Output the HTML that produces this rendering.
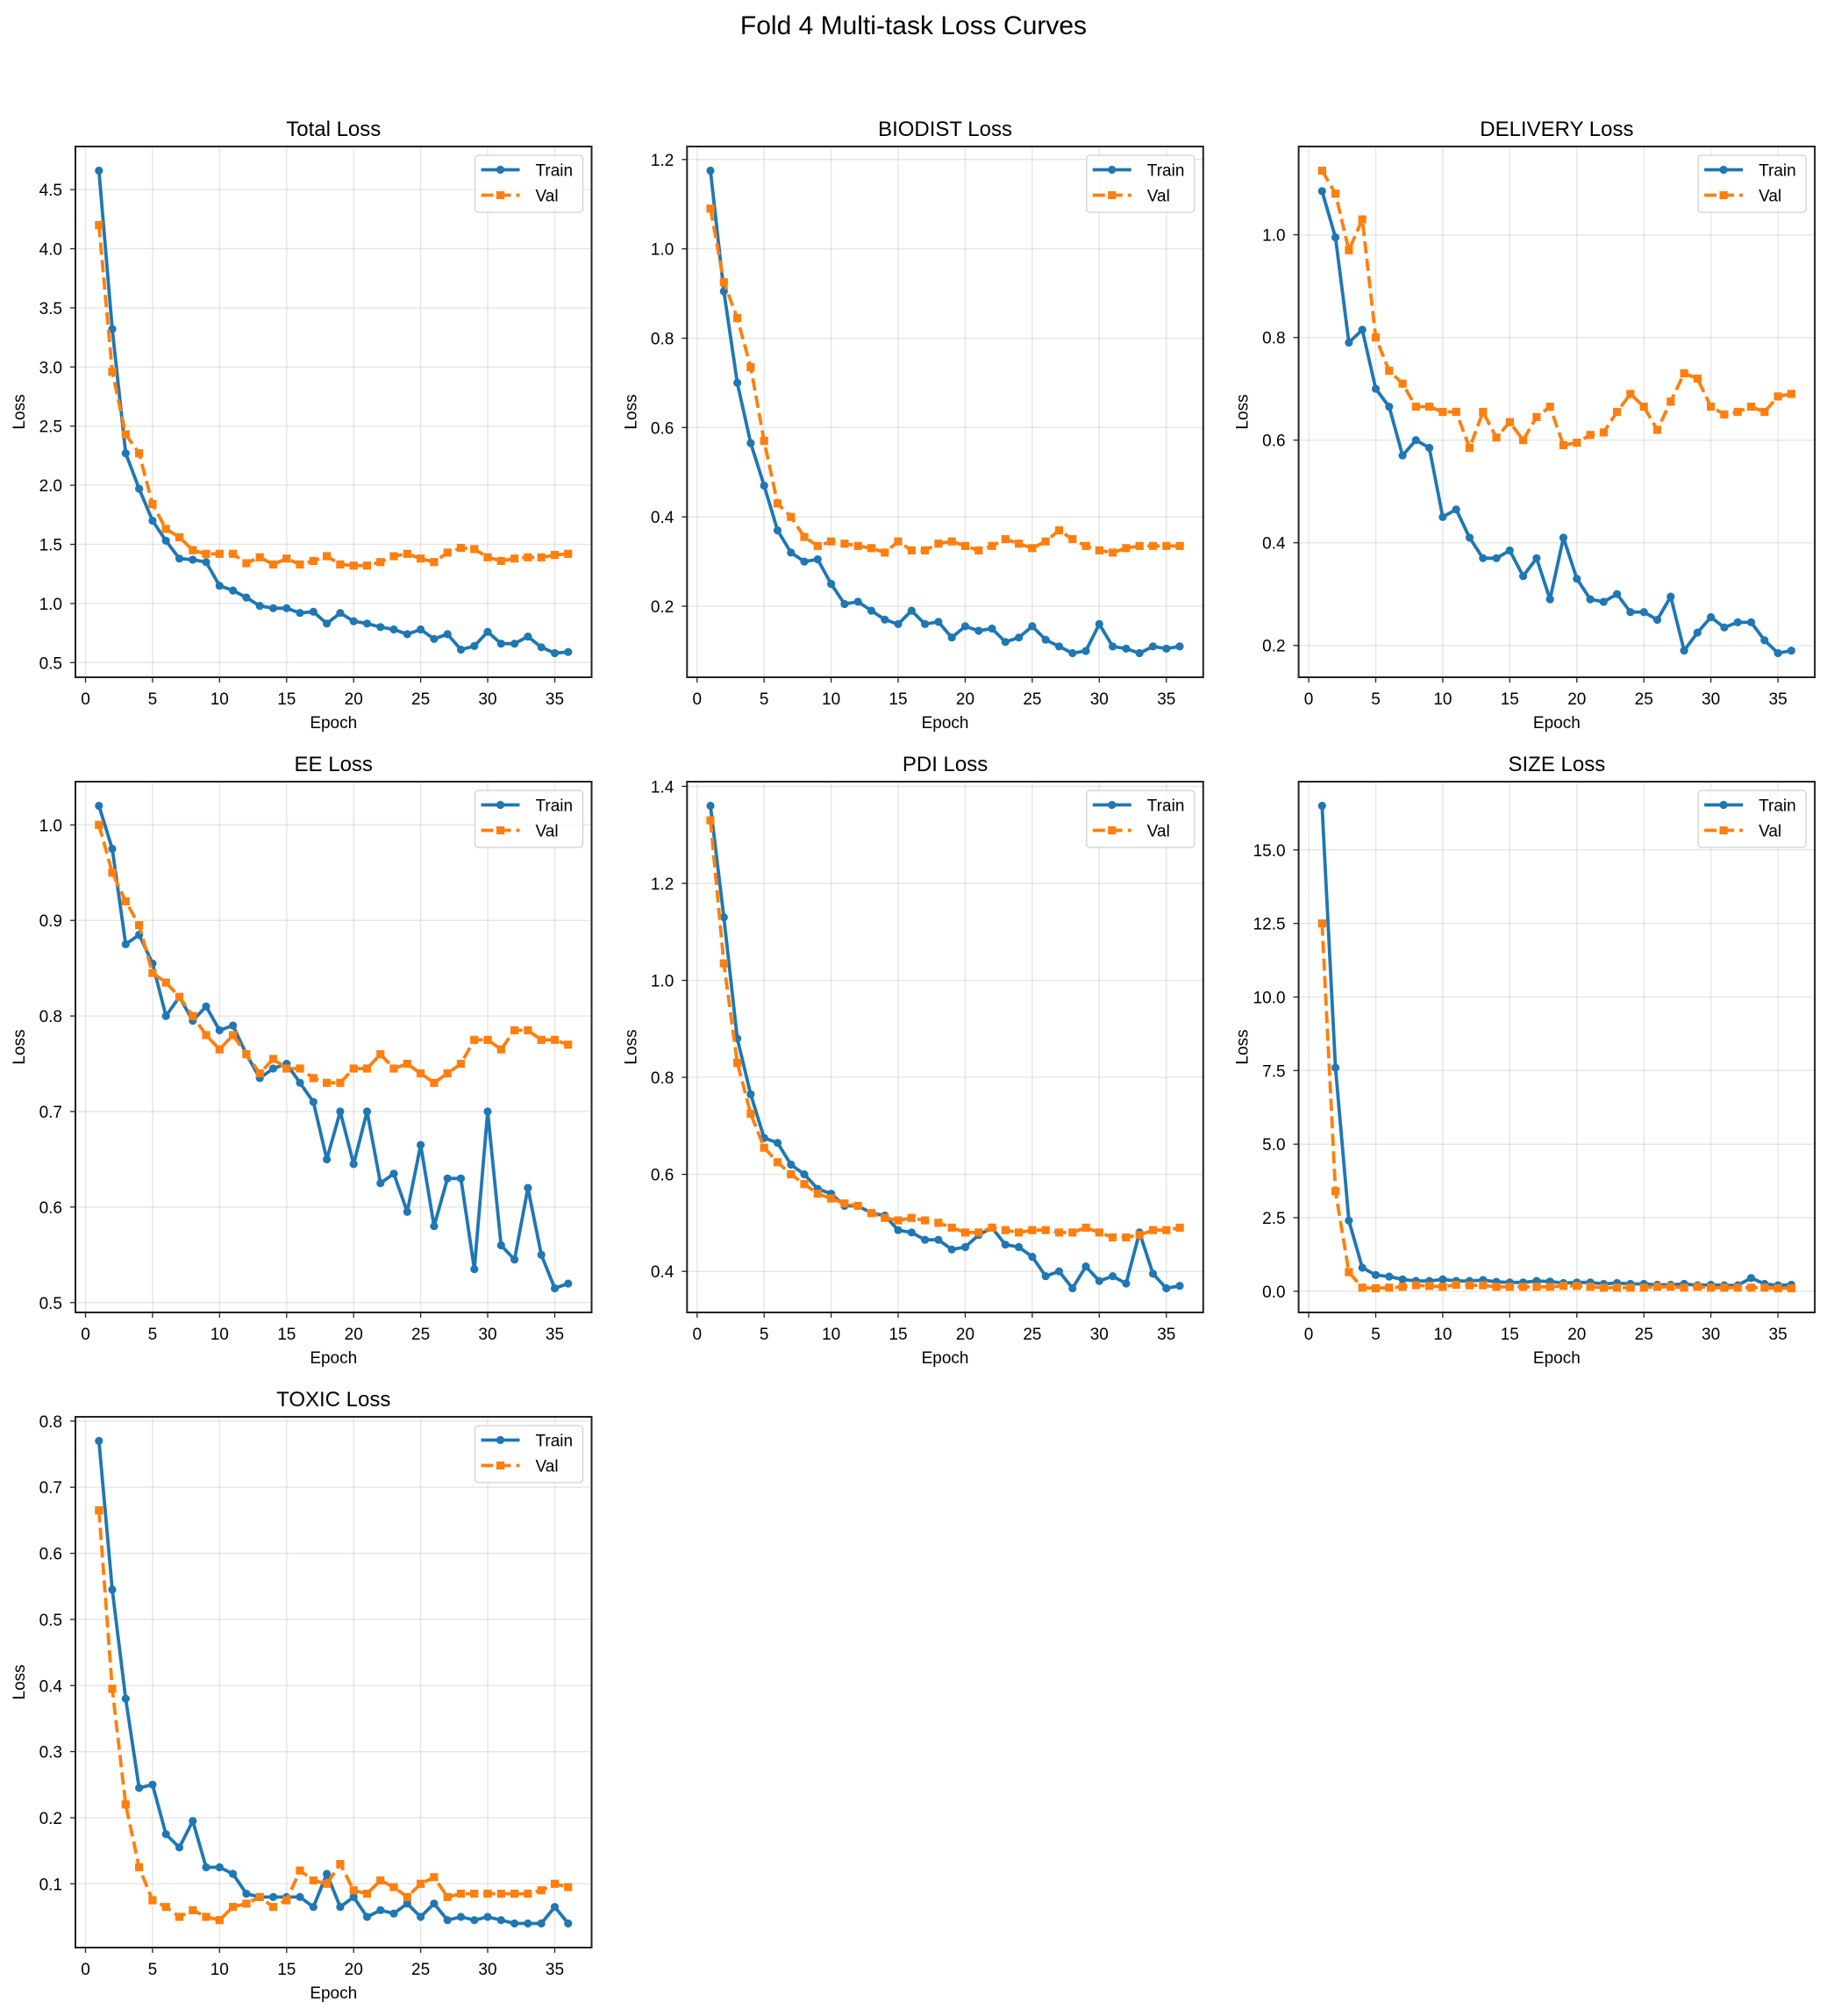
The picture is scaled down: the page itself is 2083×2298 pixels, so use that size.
<!DOCTYPE html>
<html><head><meta charset="utf-8"><style>
html,body{margin:0;padding:0;background:#fff;}
svg{display:block;font-family:"Liberation Sans",Arial,sans-serif;}
</style></head><body>
<svg id="s" xmlns="http://www.w3.org/2000/svg" width="2083" height="2298" viewBox="0 0 2083 2298">
<rect width="2083" height="2298" fill="#fff"/>
<text x="1041.5" y="39" font-size="30" text-anchor="middle" fill="#000">Fold 4 Multi-task Loss Curves</text>
</svg>
<script>
var P=[
{t:"Total Loss",ticks:[0.5,1,1.5,2,2.5,3,3.5,4,4.5],f:1,
tr:[4.66,3.32,2.27,1.97,1.70,1.53,1.38,1.37,1.35,1.15,1.11,1.05,0.98,0.96,0.96,0.92,0.93,0.83,0.92,0.85,0.83,0.80,0.78,0.74,0.78,0.70,0.74,0.61,0.64,0.76,0.66,0.66,0.72,0.63,0.58,0.59],
va:[4.20,2.96,2.43,2.27,1.84,1.63,1.56,1.45,1.42,1.42,1.42,1.34,1.39,1.33,1.38,1.33,1.36,1.40,1.33,1.32,1.32,1.35,1.40,1.42,1.38,1.35,1.43,1.47,1.46,1.39,1.36,1.38,1.39,1.39,1.41,1.42]},
{t:"BIODIST Loss",ticks:[0.2,0.4,0.6,0.8,1.0,1.2],f:1,
tr:[1.175,0.905,0.70,0.565,0.47,0.37,0.32,0.30,0.305,0.25,0.205,0.21,0.19,0.17,0.16,0.19,0.16,0.165,0.13,0.155,0.145,0.15,0.12,0.13,0.155,0.125,0.11,0.095,0.10,0.16,0.11,0.105,0.095,0.11,0.105,0.11],
va:[1.09,0.925,0.845,0.735,0.57,0.43,0.40,0.355,0.335,0.345,0.34,0.335,0.33,0.32,0.345,0.325,0.325,0.34,0.345,0.335,0.325,0.335,0.35,0.34,0.33,0.345,0.37,0.35,0.335,0.325,0.32,0.33,0.335,0.335,0.335,0.335]},
{t:"DELIVERY Loss",ticks:[0.2,0.4,0.6,0.8,1.0],f:1,
tr:[1.085,0.995,0.79,0.815,0.70,0.665,0.57,0.60,0.585,0.45,0.465,0.41,0.37,0.37,0.385,0.335,0.37,0.29,0.41,0.33,0.29,0.285,0.30,0.265,0.265,0.25,0.295,0.19,0.225,0.255,0.235,0.245,0.245,0.21,0.185,0.19],
va:[1.125,1.08,0.97,1.03,0.80,0.735,0.71,0.665,0.665,0.655,0.655,0.585,0.655,0.605,0.635,0.60,0.645,0.665,0.59,0.595,0.61,0.615,0.655,0.69,0.665,0.62,0.675,0.73,0.72,0.665,0.65,0.655,0.665,0.655,0.685,0.69]},
{t:"EE Loss",ticks:[0.5,0.6,0.7,0.8,0.9,1.0],f:1,
tr:[1.02,0.975,0.875,0.885,0.855,0.80,0.82,0.795,0.81,0.785,0.79,0.76,0.735,0.745,0.75,0.73,0.71,0.65,0.70,0.645,0.70,0.625,0.635,0.595,0.665,0.58,0.63,0.63,0.535,0.70,0.56,0.545,0.62,0.55,0.515,0.52],
va:[1.0,0.95,0.92,0.895,0.845,0.835,0.82,0.80,0.78,0.765,0.78,0.76,0.74,0.755,0.745,0.745,0.735,0.73,0.73,0.745,0.745,0.76,0.745,0.75,0.74,0.73,0.74,0.75,0.775,0.775,0.765,0.785,0.785,0.775,0.775,0.77]},
{t:"PDI Loss",ticks:[0.4,0.6,0.8,1.0,1.2,1.4],f:1,
tr:[1.36,1.13,0.88,0.765,0.675,0.665,0.62,0.60,0.57,0.56,0.535,0.535,0.52,0.515,0.485,0.48,0.465,0.465,0.445,0.45,0.475,0.49,0.455,0.45,0.43,0.39,0.40,0.365,0.41,0.38,0.39,0.375,0.48,0.395,0.365,0.37],
va:[1.33,1.035,0.83,0.725,0.655,0.625,0.60,0.58,0.56,0.55,0.54,0.535,0.52,0.51,0.505,0.51,0.505,0.50,0.49,0.48,0.48,0.49,0.485,0.48,0.485,0.485,0.48,0.48,0.49,0.48,0.47,0.47,0.475,0.485,0.485,0.49]},
{t:"SIZE Loss",ticks:[0,2.5,5,7.5,10,12.5,15],f:1,
tr:[16.5,7.6,2.4,0.8,0.55,0.5,0.4,0.35,0.35,0.4,0.35,0.35,0.38,0.32,0.3,0.3,0.35,0.33,0.28,0.3,0.3,0.25,0.28,0.25,0.25,0.22,0.22,0.25,0.2,0.22,0.2,0.2,0.45,0.25,0.2,0.22],
va:[12.5,3.4,0.65,0.12,0.1,0.12,0.15,0.2,0.18,0.15,0.22,0.2,0.2,0.15,0.15,0.15,0.15,0.15,0.18,0.18,0.15,0.12,0.12,0.12,0.12,0.15,0.15,0.12,0.15,0.12,0.12,0.12,0.12,0.12,0.1,0.1]},
{t:"TOXIC Loss",ticks:[0.1,0.2,0.3,0.4,0.5,0.6,0.7,0.8],f:1,
tr:[0.77,0.545,0.38,0.245,0.25,0.175,0.155,0.195,0.125,0.125,0.115,0.085,0.08,0.08,0.08,0.08,0.065,0.115,0.065,0.08,0.05,0.06,0.055,0.07,0.05,0.07,0.045,0.05,0.045,0.05,0.045,0.04,0.04,0.04,0.065,0.04],
va:[0.665,0.395,0.22,0.125,0.075,0.065,0.05,0.06,0.05,0.045,0.065,0.07,0.08,0.065,0.075,0.12,0.105,0.1,0.13,0.09,0.085,0.105,0.095,0.08,0.1,0.11,0.08,0.085,0.085,0.085,0.085,0.085,0.085,0.09,0.1,0.095]}
];
var s=document.getElementById('s'),h='';
var W=588.5,H=605,C1='#1f77b4',C2='#ff7f0e';
function fmt(v,p){var d=(p.t=="SIZE Loss")?1:1;var st=v.toFixed(1);if(p.t=="TOXIC Loss"||p.t=="Total Loss"||p.t=="EE Loss")st=v.toFixed(1);if(p.t=="SIZE Loss")st=v.toFixed(1);return st;}
P.forEach(function(p,i){
 var L=86+697.3*(i%3),T=167+724*Math.floor(i/3);
 var all=p.tr.concat(p.va),mn=Math.min.apply(0,all),mx=Math.max.apply(0,all),r=mx-mn;
 var y0=mn-0.05*r,y1=mx+0.05*r;
 var X=function(e){return L+(e+0.75)/38.5*W;},Y=function(v){return T+H-(v-y0)/(y1-y0)*H;};
 h+='<g>';
 for(var e=0;e<=35;e+=5){var x=X(e).toFixed(1);
  h+='<line x1="'+x+'" y1="'+T+'" x2="'+x+'" y2="'+(T+H)+'" stroke="#b0b0b0" stroke-opacity="0.3" stroke-width="1.5"/>';
  h+='<line x1="'+x+'" y1="'+(T+H)+'" x2="'+x+'" y2="'+(T+H+6)+'" stroke="#222" stroke-width="1.3"/>';
  h+='<text x="'+x+'" y="'+(T+H+31)+'" font-size="19" text-anchor="middle">'+e+'</text>';}
 p.ticks.forEach(function(v){var y=Y(v).toFixed(1);
  h+='<line x1="'+L+'" y1="'+y+'" x2="'+(L+W)+'" y2="'+y+'" stroke="#b0b0b0" stroke-opacity="0.3" stroke-width="1.5"/>';
  h+='<line x1="'+(L-6)+'" y1="'+y+'" x2="'+L+'" y2="'+y+'" stroke="#222" stroke-width="1.3"/>';
  h+='<text x="'+(L-15)+'" y="'+(Y(v)+7)+'" font-size="19" text-anchor="end">'+v.toFixed(1)+'</text>';});
 var pt=function(a){return a.map(function(v,k){return X(k+1).toFixed(1)+','+Y(v).toFixed(1);}).join(' ');};
 h+='<polyline points="'+pt(p.tr)+'" fill="none" stroke="'+C1+'" stroke-width="3.8" stroke-linejoin="round"/>';
 p.tr.forEach(function(v,k){h+='<circle cx="'+X(k+1).toFixed(1)+'" cy="'+Y(v).toFixed(1)+'" r="4.6" fill="'+C1+'"/>';});
 h+='<polyline points="'+pt(p.va)+'" fill="none" stroke="'+C2+'" stroke-width="3.8" stroke-dasharray="14,6"/>';
 p.va.forEach(function(v,k){h+='<rect x="'+(X(k+1)-4.6).toFixed(1)+'" y="'+(Y(v)-4.6).toFixed(1)+'" width="9.2" height="9.2" fill="'+C2+'"/>';});
 h+='<rect x="'+L+'" y="'+T+'" width="'+W+'" height="'+H+'" fill="none" stroke="#222" stroke-width="2"/>';
 h+='<text x="'+(L+W/2)+'" y="'+(T-12)+'" font-size="24" text-anchor="middle">'+p.t+'</text>';
 h+='<text x="'+(L+W/2)+'" y="'+(T+H+58)+'" font-size="19" text-anchor="middle">Epoch</text>';
 h+='<text transform="translate('+(L-58)+','+(T+H/2)+') rotate(-90)" font-size="19" text-anchor="middle">Loss</text>';
 var lx=L+W-133,ly=T+10;
 h+='<rect x="'+lx+'" y="'+ly+'" width="123" height="65" rx="4" fill="#fff" fill-opacity="0.8" stroke="#d0d0d0" stroke-width="1.3"/>';
 h+='<line x1="'+(lx+7)+'" y1="'+(ly+16.5)+'" x2="'+(lx+51)+'" y2="'+(ly+16.5)+'" stroke="'+C1+'" stroke-width="3.8"/><circle cx="'+(lx+29)+'" cy="'+(ly+16.5)+'" r="4.6" fill="'+C1+'"/>';
 h+='<text x="'+(lx+69)+'" y="'+(ly+23.5)+'" font-size="19">Train</text>';
 h+='<line x1="'+(lx+7)+'" y1="'+(ly+45.5)+'" x2="'+(lx+51)+'" y2="'+(ly+45.5)+'" stroke="'+C2+'" stroke-width="3.8" stroke-dasharray="14,6"/><rect x="'+(lx+24.4)+'" y="'+(ly+40.9)+'" width="9.2" height="9.2" fill="'+C2+'"/>';
 h+='<text x="'+(lx+69)+'" y="'+(ly+52.5)+'" font-size="19">Val</text>';
 h+='</g>';
});
s.insertAdjacentHTML('beforeend',h);
</script>
</body></html>
